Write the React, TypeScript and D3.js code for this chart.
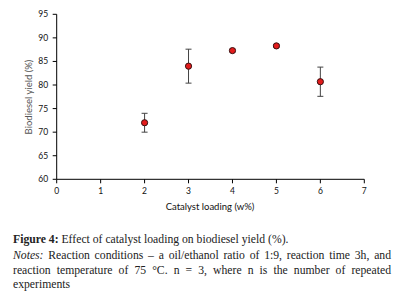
import React, { useLayoutEffect, useRef } from "react";
import * as d3 from "d3";

const loading = [2, 3, 4, 5, 6];
const yieldMean = [72.0, 84.0, 87.3, 88.3, 80.7];
const yieldErr = [2.0, 3.6, 0.3, 0.3, 3.1];
const xTicks = [0, 1, 2, 3, 4, 5, 6, 7];
const yTicks = [60, 65, 70, 75, 80, 85, 90, 95];

const captionLines = [
  "Reaction conditions \u2013 a oil/ethanol ratio of 1:9, reaction time 3h, and",
  "reaction temperature of 75 \u00b0C. n = 3, where n is the number of repeated",
];

export default function App() {
  const W = 396, H = 301;
  const x = d3.scaleLinear().domain([0, 7]).range([56.7, 364.3]);
  const y = d3.scaleLinear().domain([60, 95]).range([179.3, 14.3]);
  const ref1 = useRef<SVGTextElement>(null);
  const ref2 = useRef<SVGTextElement>(null);
  const left = 13, right = 391;

  useLayoutEffect(() => {
    [ref1, ref2].forEach((r, i) => {
      const el = r.current;
      if (!el) return;
      el.setAttribute("word-spacing", "0");
      const w = el.getComputedTextLength();
      const spaces = (captionLines[i].match(/ /g) || []).length + (i === 0 ? 1 : 0);
      const extra = (right - left - w) / spaces;
      el.setAttribute("word-spacing", String(extra));
    });
  }, []);

  const chartFont = "Lato, 'Open Sans', sans-serif";
  const serif = "'Liberation Serif', 'DejaVu Serif', serif";
  const capSize = 11.7;

  return (
    <svg width={W} height={H} style={{ position: "absolute", left: 0, top: 0 }}>
      <rect width={W} height={H} fill="#fff" />
      <line x1={x(0)} x2={x(7)} y1={y(60)} y2={y(60)} stroke="#000" strokeWidth={1} />
      <line x1={x(0)} x2={x(0)} y1={y(60)} y2={y(95)} stroke="#000" strokeWidth={1} />
      {xTicks.map((t) => (
        <g key={"xt" + t}>
          <line x1={x(t)} x2={x(t)} y1={y(60)} y2={y(60) + 4} stroke="#000" />
          <text x={x(t)} y={y(60) + 14.5} textAnchor="middle" fontSize={8.5} fontFamily={chartFont} fill="#111">
            {t}
          </text>
        </g>
      ))}
      {yTicks.map((t) => (
        <g key={"yt" + t}>
          <line x1={x(0) - 4} x2={x(0)} y1={y(t)} y2={y(t)} stroke="#000" />
          <text x={x(0) - 8.5} y={y(t) + 3} textAnchor="end" fontSize={8.5} fontFamily={chartFont} fill="#111">
            {t}
          </text>
        </g>
      ))}
      <text x={210} y={210} textAnchor="middle" fontSize={9.5} fontFamily={chartFont} fill="#111">
        Catalyst loading (w%)
      </text>
      <text
        transform={`translate(32,${97}) rotate(-90)`}
        textAnchor="middle"
        fontSize={9.5}
        fontFamily={chartFont}
        fill="#555"
      >
        Biodiesel yield (%)
      </text>
      {loading.map((l, i) => (
        <g key={"e" + i} stroke="#444" strokeWidth={1}>
          <line x1={x(l)} x2={x(l)} y1={y(yieldMean[i] + yieldErr[i])} y2={y(yieldMean[i] - yieldErr[i])} />
          <line x1={x(l) - 3} x2={x(l) + 3} y1={y(yieldMean[i] + yieldErr[i])} y2={y(yieldMean[i] + yieldErr[i])} />
          <line x1={x(l) - 3} x2={x(l) + 3} y1={y(yieldMean[i] - yieldErr[i])} y2={y(yieldMean[i] - yieldErr[i])} />
        </g>
      ))}
      {loading.map((l, i) => (
        <circle key={"p" + i} cx={x(l)} cy={y(yieldMean[i])} r={3.1} fill="#e31b1b" stroke="#3a1010" strokeWidth={1} />
      ))}
      <text x={left} y={243} fontSize={capSize} fontFamily={serif} fill="#222">
        <tspan fontWeight="bold">Figure 4:</tspan> Effect of catalyst loading on biodiesel yield (%).
      </text>
      <text ref={ref1} x={left} y={259} fontSize={capSize} fontFamily={serif} fill="#222">
        <tspan fontStyle="italic">Notes:</tspan> {captionLines[0]}
      </text>
      <text ref={ref2} x={left} y={274} fontSize={capSize} fontFamily={serif} fill="#222">
        {captionLines[1]}
      </text>
      <text x={left} y={288} fontSize={capSize} fontFamily={serif} fill="#222">
        experiments
      </text>
    </svg>
  );
}
